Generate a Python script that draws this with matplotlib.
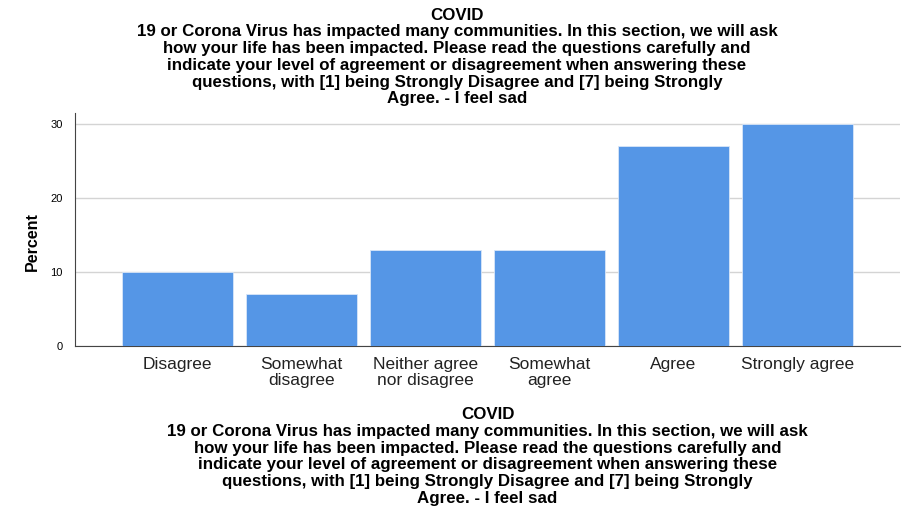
import matplotlib
matplotlib.use("Agg")
import matplotlib.pyplot as plt

categories = ["Disagree", "Somewhat\ndisagree", "Neither agree\nnor disagree",
              "Somewhat\nagree", "Agree", "Strongly agree"]
percent = [10, 7, 13, 13, 27, 30]
yticks = [0, 10, 20, 30]

title = ("COVID\n19 or Corona Virus has impacted many communities. In this section, we will ask\n"
         "how your life has been impacted. Please read the questions carefully and\n"
         "indicate your level of agreement or disagreement when answering these\n"
         "questions, with [1] being Strongly Disagree and [7] being Strongly\n"
         "Agree. - I feel sad")

plt.rcParams['font.family'] = ['Liberation Sans', 'DejaVu Sans']

fig = plt.figure(figsize=(9.03, 5.09), dpi=100)
ax = fig.add_axes([75/903, 1-346/509, 825/903, (346-113)/509])

x = list(range(len(categories)))
ax.bar(x, percent, width=0.9, color="#5596E6", edgecolor="#d8e6f8", linewidth=0.6, zorder=3)

ax.set_xlim(-0.827, 5.827)
ax.set_ylim(0, 31.5)
ax.set_yticks(yticks)
ax.set_yticklabels([str(t) for t in yticks], fontsize=8)
ax.set_xticks(x)
ax.set_xticklabels(categories, fontsize=12.5, color="#222222", linespacing=1.1)
ax.tick_params(axis='both', length=0)
ax.tick_params(axis='x', pad=8)
ax.tick_params(axis='y', pad=9)
ax.grid(axis='y', color="#d4d4d4", linewidth=1, zorder=0)
for s in ['top', 'right']:
    ax.spines[s].set_visible(False)
ax.spines['left'].set_color("#444444")
ax.spines['bottom'].set_color("#444444")

ax.set_ylabel("Percent", fontsize=11.5, fontweight='bold')
ax.yaxis.set_label_coords(-0.042, 0.45)

fig.text(457/903, 1-7.5/509, title, ha='center', va='top', fontsize=12.2,
         fontweight='bold', linespacing=1.15)
fig.text(487.5/903, 1-407/509, title, ha='center', va='top', fontsize=12.2,
         fontweight='bold', linespacing=1.15)

fig.savefig("out.png", dpi=100)
